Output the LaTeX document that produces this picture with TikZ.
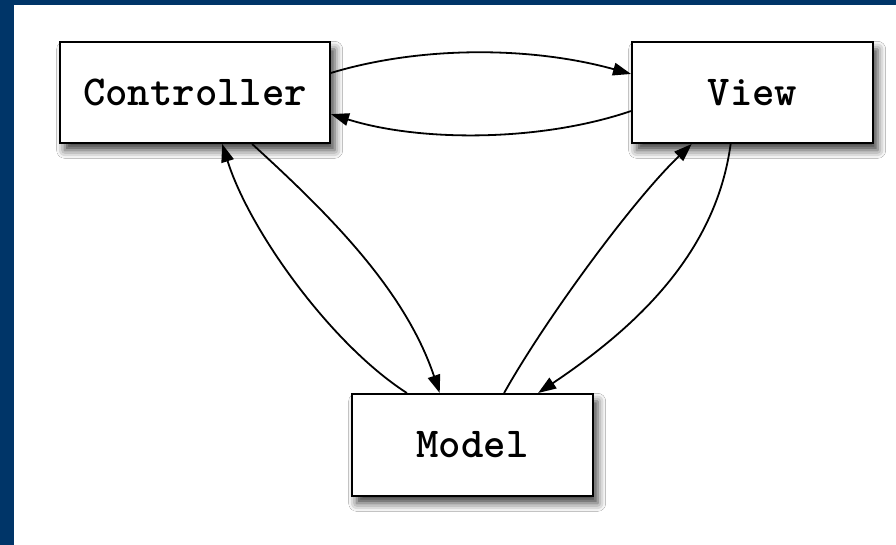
\documentclass[tikz,border=0pt]{standalone}
\usepackage{fontspec}
\usetikzlibrary{arrows.meta,calc,shadows.blur}
\definecolor{navy}{RGB}{0,53,104}
\tikzset{
  mvcbox/.style={draw=black, line width=1.5pt, fill=white, rectangle,
    minimum height=75.75pt, inner sep=0pt, font=\ttfamily\bfseries\fontsize{32pt}{32pt}\selectfont,
    blur shadow={shadow xshift=3.5pt, shadow yshift=-5.5pt, shadow blur radius=6pt, shadow opacity=75}},
  conn/.style={line width=1.35pt, -{Triangle[length=13.5pt,width=9.5pt]}},
}
\begin{document}
\begin{tikzpicture}[x=0.75pt,y=-0.75pt]
\fill[navy] (0,0) rectangle (896,545);
\fill[white] (14,5) rectangle (896,545);
\useasboundingbox (0,0) rectangle (896,545);
\node[mvcbox, minimum width=202.5pt] (ctrl) at (195,92.5) {Controller};
\node[mvcbox, minimum width=180.75pt] (view) at (752.5,92.5) {View};
\node[mvcbox, minimum width=180.75pt, minimum height=76.5pt] (model) at (472.5,445) {Model};
% Controller -> View (top)
\draw[conn] ($(ctrl.north east)!0.31!(ctrl.south east)$) .. controls (420,46) and (530,46) .. ($(view.north west)!0.32!(view.south west)$);
% View -> Controller (bottom)
\draw[conn] ($(view.north west)!0.68!(view.south west)$) .. controls (540,142) and (420,142) .. ($(ctrl.north east)!0.71!(ctrl.south east)$);
% Controller -> Model
\draw[conn] ($(ctrl.south west)!0.71!(ctrl.south east)$) .. controls (330,215) and (405,290) .. ($(model.north west)!0.365!(model.north east)$);
% Model -> Controller
\draw[conn] ($(model.north west)!0.23!(model.north east)$) .. controls (332,345) and (250,232) .. ($(ctrl.south west)!0.6!(ctrl.south east)$);
% Model -> View
\draw[conn] ($(model.north west)!0.63!(model.north east)$) .. controls (545,320) and (633,200) .. ($(view.south west)!0.25!(view.south east)$);
% View -> Model
\draw[conn] ($(view.south west)!0.41!(view.south east)$) .. controls (716,252) and (638,326) .. ($(model.north west)!0.77!(model.north east)$);
\end{tikzpicture}
\end{document}
